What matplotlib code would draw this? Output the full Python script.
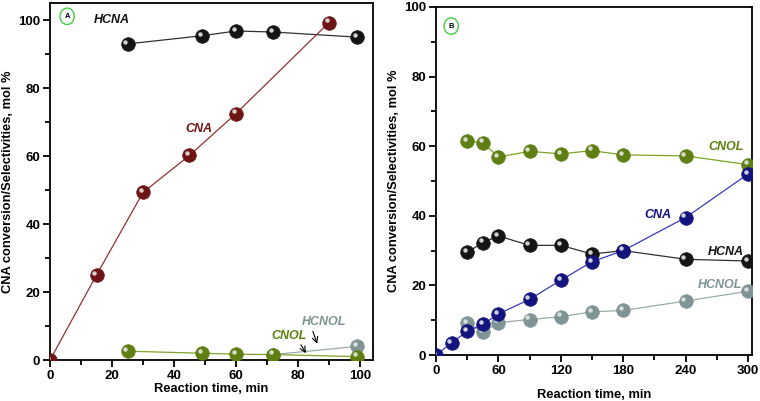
import numpy as np
import matplotlib
matplotlib.use("Agg")
import matplotlib.pyplot as plt
from matplotlib.ticker import MultipleLocator
from matplotlib.transforms import offset_copy

plt.rcParams['font.family'] = ['Liberation Sans', 'DejaVu Sans']
plt.rcParams['font.weight'] = 'bold'

# ---- panel A data ----
a_cna_t = [0, 15, 30, 45, 60, 90]
a_cna = [0, 25, 49.3, 60.2, 72.5, 99.3]
a_hcna_t = [25, 49, 60, 72, 99]
a_hcna = [93, 95.4, 96.8, 96.5, 95]
a_cnol_t = [25, 49, 60, 72, 99]
a_cnol = [2.6, 2.0, 1.7, 1.6, 1.0]
a_hcnol_t = [72, 99]
a_hcnol = [1.6, 4.0]

# ---- panel B data ----
b_t = [30, 45, 60, 90, 120, 150, 180, 240, 300]
b_cnol = [61.5, 61.0, 56.9, 58.5, 57.8, 58.7, 57.5, 57.2, 54.7]
b_cna_t = [0, 15, 30, 45, 60, 90, 120, 150, 180, 240, 300]
b_cna = [0, 3.5, 6.8, 8.8, 11.8, 16.0, 21.5, 26.8, 30.0, 39.5, 52.0]
b_hcna = [29.5, 32.3, 34.2, 31.5, 31.5, 29.0, 30.0, 27.5, 27.0]
b_hcnol = [9.2, 6.5, 9.3, 10.2, 11.0, 12.4, 12.8, 15.5, 18.3]

RED, RED_L = '#6e1414', '#8e3434'
BLK, BLK_L = '#151515', '#303030'
GRN, GRN_L = '#5f7f12', '#7ea428'
GRY, GRY_L = '#7f9494', '#9aaaaa'
BLU, BLU_L = '#14147e', '#3a3ab8'

fig = plt.figure(figsize=(7.6, 4.01), dpi=100)
axA = fig.add_axes([0.0658, 0.1022, 0.425, 0.890])
axB = fig.add_axes([0.5737, 0.1147, 0.4158, 0.868])


def sphere(ax, x, y, c, lc, z=3):
    ax.plot(x, y, '-', color=lc, lw=0.9, zorder=z)
    ax.plot(x, y, 'o', ms=9.8, mfc=c, mec=c, mew=0.5, zorder=z + 0.1)
    tr = offset_copy(ax.transData, fig=fig, x=-1.6, y=1.6, units='points')
    ax.plot(x, y, 'o', ms=3.2, mfc='#e6e6e6', mec='none', alpha=0.9,
            transform=tr, zorder=z + 0.2)


def style(ax, xmaj, xmin, xlim, xpad):
    ax.set_xlim(*xlim)
    ax.xaxis.set_major_locator(MultipleLocator(xmaj))
    ax.xaxis.set_minor_locator(MultipleLocator(xmin))
    ax.yaxis.set_major_locator(MultipleLocator(20))
    ax.yaxis.set_minor_locator(MultipleLocator(10))
    ax.tick_params(which='major', direction='out', length=5, width=1.3,
                   labelsize=9.5, pad=2)
    ax.tick_params(which='minor', direction='out', length=3.5, width=1.3)
    for s in ax.spines.values():
        s.set_linewidth(1.3)
    for lab in ax.get_xticklabels() + ax.get_yticklabels():
        lab.set_fontweight('bold')
    ax.set_xlabel('Reaction time, min', fontsize=9.3, fontweight='bold', labelpad=xpad)
    ax.set_ylabel('CNA conversion/Selectivities, mol %', fontsize=9.3,
                  fontweight='bold', labelpad=3)


# panel A
sphere(axA, a_hcnol_t, a_hcnol, GRY, GRY_L, z=2)
sphere(axA, a_cnol_t, a_cnol, GRN, GRN_L, z=3)
sphere(axA, a_hcna_t, a_hcna, BLK, BLK_L, z=3)
sphere(axA, a_cna_t, a_cna, RED, RED_L, z=4)
axA.set_ylim(0, 105)
style(axA, 20, 10, (0, 104.2), 1)
axA.set_xticks([0, 20, 40, 60, 80, 100])
axA.text(14, 100, 'HCNA', color=BLK, fontsize=9, fontstyle='italic',
         fontweight='bold', va='center', ha='left')
axA.text(48, 68, 'CNA', color=RED, fontsize=9, fontstyle='italic',
         fontweight='bold', va='center', ha='center')
axA.text(88.5, 11.3, 'HCNOL', color=GRY, fontsize=9, fontstyle='italic',
         fontweight='bold', va='center', ha='center')
axA.text(77, 7, 'CNOL', color=GRN, fontsize=9, fontstyle='italic',
         fontweight='bold', va='center', ha='center')
axA.annotate('', xy=(86.5, 4.0), xytext=(84.5, 9.2),
             arrowprops=dict(arrowstyle='->', color='black', lw=0.8))
axA.annotate('', xy=(83, 1.3), xytext=(80.5, 5.2),
             arrowprops=dict(arrowstyle='->', color='black', lw=0.8))
axA.text(0.053, 0.963, 'A', transform=axA.transAxes, fontsize=5.5,
         fontweight='bold', ha='center', va='center',
         bbox=dict(boxstyle='ellipse,pad=0.3', fc='white', ec='#3fcf3f', lw=1))

# panel B
sphere(axB, b_t, b_cnol, GRN, GRN_L, z=3)
sphere(axB, b_t, b_hcnol, GRY, GRY_L, z=3)
sphere(axB, b_cna_t, b_cna, BLU, BLU_L, z=4)
sphere(axB, b_t, b_hcna, BLK, BLK_L, z=3)
axB.set_ylim(0, 100)
style(axB, 60, 30, (0, 303.8), 9)
axB.text(279, 59.8, 'CNOL', color=GRN, fontsize=9, fontstyle='italic',
         fontweight='bold', va='center', ha='center')
axB.text(213, 40.2, 'CNA', color=BLU, fontsize=9, fontstyle='italic',
         fontweight='bold', va='center', ha='center')
axB.text(279, 29.6, 'HCNA', color=BLK, fontsize=9, fontstyle='italic',
         fontweight='bold', va='center', ha='center')
axB.text(273, 20.1, 'HCNOL', color=GRY, fontsize=9, fontstyle='italic',
         fontweight='bold', va='center', ha='center')
axB.text(0.048, 0.945, 'B', transform=axB.transAxes, fontsize=5.5,
         fontweight='bold', ha='center', va='center',
         bbox=dict(boxstyle='ellipse,pad=0.3', fc='white', ec='#3fcf3f', lw=1))

fig.savefig('out.png', dpi=100)
